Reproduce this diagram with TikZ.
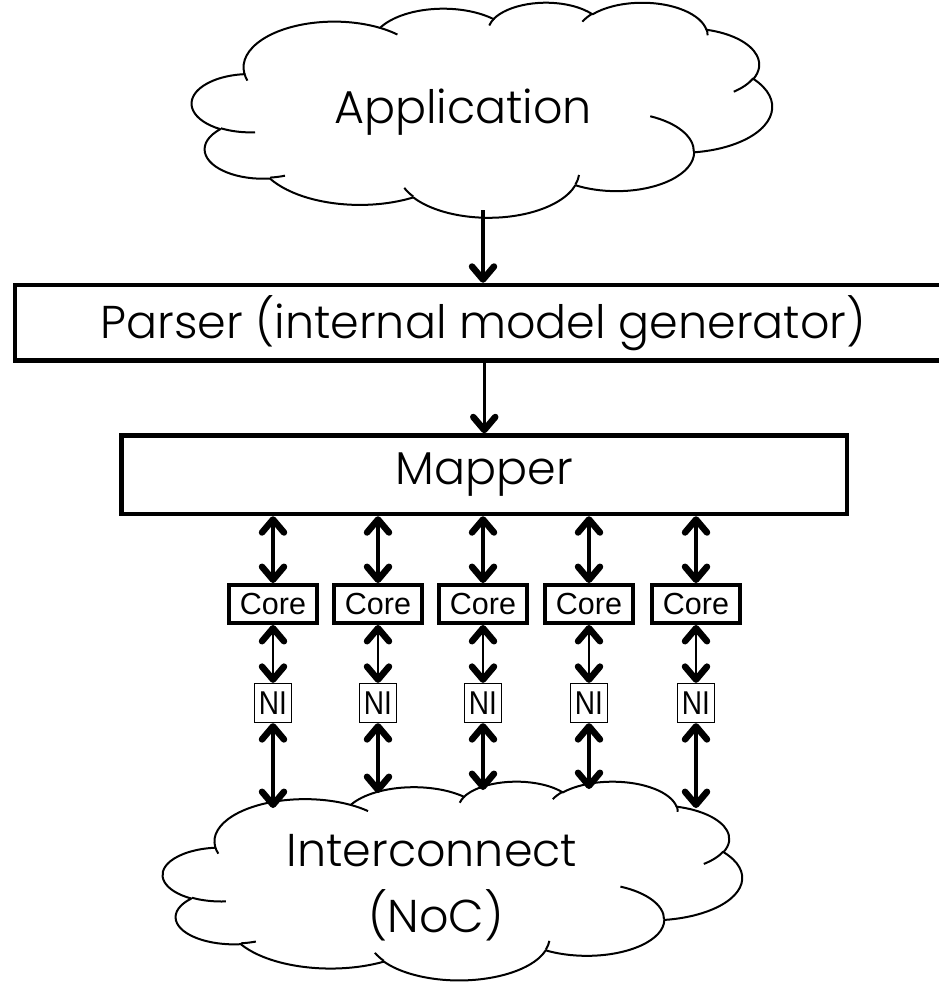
\documentclass[tikz,border=0pt]{standalone}
\usepackage{fontspec}
\newfontfamily\gothic{Poppins}[UprightFont={* Light}]
\newfontfamily\arialf{Liberation Sans}
\usetikzlibrary{arrows.meta}

% One elliptical arc of the cloud outline: x/y radius, start and sweep
% angle given as visual (ray) angles, converted to parametric angles here.
\newcommand\pparc[4]{arc[start angle={atan2((#1)*sin(#3),(#2)*cos(#3))},delta angle={mod(atan2((#1)*sin((#3)+(#4)),(#2)*cos((#3)+(#4)))-atan2((#1)*sin(#3),(#2)*cos(#3))+720,360)},x radius=#1,y radius=#2]}

% Cloud outline plus its inner hook strokes, drawn in a 432 x 432 box
\newcommand\pptcloud{%
  \draw[cloudline] (39.00,143.70)
    \pparc{67.53}{91.90}{-190.4875}{123.7805}
    \pparc{53.33}{72.67}{-144.1024}{89.9452}
    \pparc{43.65}{59.45}{-145.8079}{99.7230}
    \pparc{48.57}{65.95}{-130.9861}{117.2417}
    \pparc{53.33}{72.73}{-78.7089}{109.0269}
    \pparc{67.75}{92.20}{-46.2673}{130.2690}
    \pparc{57.85}{78.67}{0.6250}{114.0333}
    \pparc{67.52}{92.15}{22.4516}{115.1726}
    \pparc{77.20}{105.43}{66.2426}{75.7110}
    \pparc{43.60}{59.18}{-274.9421}{146.7356}
    \pparc{43.45}{59.45}{-246.8285}{152.5189}
    -- cycle;
  \draw[cloudline]
    (46.93,261.77) \pparc{43.45}{59.45}{86.7420}{26.4295}
    (69.28,348.99) \pparc{43.60}{59.18}{73.6105}{11.4475}
    (164.78,390.90) \pparc{67.52}{92.15}{137.6242}{14.0811}
    (288.27,347.51) \pparc{67.52}{92.15}{6.4533}{15.9984}
    (341.29,229.54) \pparc{57.85}{78.67}{-70.2924}{70.9174}
    (417.98,153.54) \pparc{53.33}{72.73}{30.3180}{27.7515}
    (383.24,54.26) \pparc{48.57}{65.95}{-13.7443}{14.8589}
    (290.78,39.52) \pparc{48.57}{65.95}{-149.1815}{18.1954}
    (221.41,47.20) \pparc{43.65}{59.45}{-163.4943}{17.6864}
    (140.00,51.92) \pparc{67.53}{91.90}{-66.7070}{12.3194}
    (41.27,157.89) \pparc{67.53}{91.90}{157.6544}{11.8582};
}

\tikzset{
  cloudline/.style={line width=2pt, line join=round},
  gtext/.style={inner sep=0pt, font=\gothic\fontsize{46}{50}\selectfont},
  bigbox/.style={draw, line width=4.5pt, inner sep=0pt, font=\gothic\fontsize{46}{50}\selectfont},
  corebox/.style={draw, line width=4pt, inner sep=0pt, minimum width=88pt, minimum height=38pt,
    font=\arialf\fontsize{30.5}{32}\selectfont},
  nibox/.style={draw, line width=1.3pt, inner sep=0pt, minimum width=37pt, minimum height=39pt,
    font=\arialf\fontsize{33}{34}\selectfont},
  shaftthick/.style={line width=3.3pt},
  shaftthin/.style={line width=1.4pt},
  >={Straight Barb[length=13pt,width=22pt,line width=6.5pt,round]},
}

\begin{document}
\begin{tikzpicture}[x=1pt,y=-1pt]
\useasboundingbox (0,0) rectangle (939,982);

% clouds
\begin{scope}[shift={(192,2)},x=1.3426pt,y=-0.4977pt]
  \pptcloud
\end{scope}
\begin{scope}[shift={(163,781)},x=1.34028pt,y=-0.46pt]
  \pptcloud
\end{scope}
\node[gtext, anchor=base] (apptxt) at (463,123) {Application};
\node[gtext, anchor=base] (ictxt) at (432,866) {Interconnect};
\node[gtext, anchor=base] (noctxt) at (436,932) {(NoC)};

% tool chain boxes
\node[bigbox, minimum width=936pt, minimum height=75.5pt] (parser) at (483,322.75)
  {Parser (internal model generator)};
\node[bigbox, minimum width=725.5pt, minimum height=78.5pt] (mapper) at (484.25,474.75) {Mapper};

\coordinate (ab) at (483,210);
\draw[->, shaftthick] (ab) -- (ab |- parser.north);
\draw[->, shaftthick] (parser.south -| mapper.north) -- (mapper.north);

% cores, network interfaces and their links
\foreach \i/\x/\ye in {1/273/808, 2/378/793, 3/483/790, 4/589/789, 5/696/808}{
  \node[corebox] (c\i) at (\x,604) {Core};
  \node[nibox] (n\i) at (\x,703) {\scalebox{0.85}[1]{NI}};
  \coordinate (e\i) at (\x,\ye);
  \draw[<->, shaftthick] (c\i.north |- mapper.south) -- (c\i.north);
  \draw[<->, shaftthin] (c\i.south) -- (n\i.north);
  \draw[<->, shaftthick] (n\i.south) -- (e\i);
}
\end{tikzpicture}
\end{document}
